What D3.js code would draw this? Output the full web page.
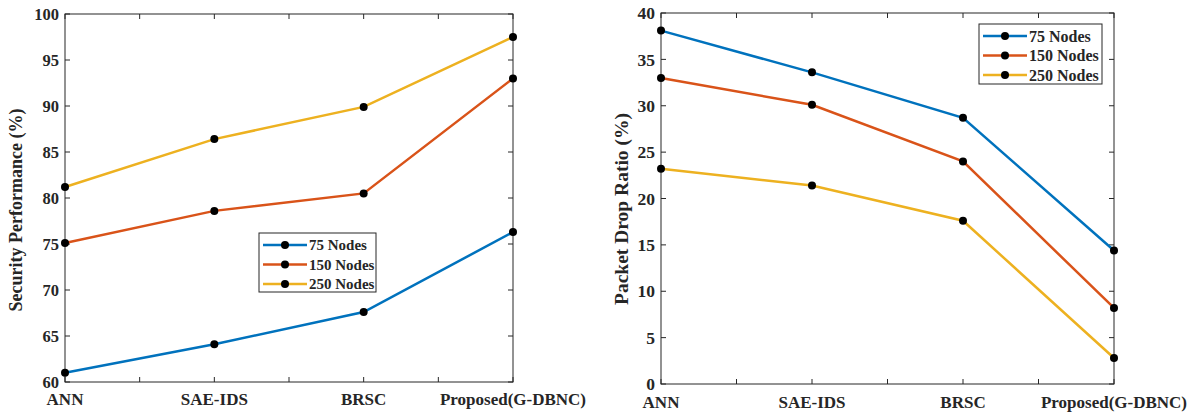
<!DOCTYPE html>
<html><head><meta charset="utf-8">
<script src="https://cdn.jsdelivr.net/npm/d3@7"></script>
<style>body{margin:0;background:#fff}svg{display:block}text{font-family:"Liberation Serif","Times New Roman",serif;font-weight:bold;fill:#262626}</style>
</head><body>
<svg id="c" width="1198" height="416"></svg>
<script>
const categories = ["ANN","SAE-IDS","BRSC","Proposed(G-DBNC)"];
const seriesNames = ["75 Nodes","150 Nodes","250 Nodes"];
const colors = ["#0072BD","#D95319","#EDB120"];
const secPerf75 = [61.0, 64.1, 67.6, 76.3];
const secPerf150 = [75.1, 78.6, 80.5, 93.0];
const secPerf250 = [81.2, 86.4, 89.9, 97.5];
const pdr75 = [38.1, 33.6, 28.7, 14.4];
const pdr150 = [33.0, 30.1, 24.0, 8.2];
const pdr250 = [23.2, 21.4, 17.6, 2.8];
const secTicks = [60,65,70,75,80,85,90,95,100];
const pdrTicks = [0,5,10,15,20,25,30,35,40];

const svg = d3.select("#c");

function panel(o){
  const g = svg.append("g");
  const x = d3.scaleLinear().domain([0, categories.length-1]).range([o.x0, o.x1]);
  const y = d3.scaleLinear().domain(o.domain).range([o.y1, o.y0]);
  const halfTicks = d3.range(0, categories.length-0.5, 0.5);
  const tk = 5;
  const ax = "#262626";
  g.selectAll(".xb").data(halfTicks).join("line").attr("x1",d=>x(d)).attr("x2",d=>x(d)).attr("y1",o.y1).attr("y2",o.y1-tk).attr("stroke",ax);
  g.selectAll(".xt").data(halfTicks).join("line").attr("x1",d=>x(d)).attr("x2",d=>x(d)).attr("y1",o.y0).attr("y2",o.y0+tk).attr("stroke",ax);
  g.selectAll(".yl").data(o.ticks).join("line").attr("x1",o.x0).attr("x2",o.x0+tk).attr("y1",d=>y(d)).attr("y2",d=>y(d)).attr("stroke",ax);
  g.selectAll(".yr").data(o.ticks).join("line").attr("x1",o.x1).attr("x2",o.x1-tk).attr("y1",d=>y(d)).attr("y2",d=>y(d)).attr("stroke",ax);
  g.append("rect").attr("x",o.x0).attr("y",o.y0).attr("width",o.x1-o.x0).attr("height",o.y1-o.y0).attr("fill","none").attr("stroke",ax).attr("stroke-width",1);
  g.selectAll(".ytl").data(o.ticks).join("text").attr("x",o.x0-6).attr("y",d=>y(d)).attr("dy","0.35em").attr("text-anchor","end").attr("font-size",o.fs).text(d=>d);
  g.selectAll(".xtl").data(categories).join("text").attr("x",(d,i)=>x(i)).attr("y",o.y1+o.xlDy).attr("text-anchor","middle").attr("font-size",17).text(d=>d);
  g.append("text").attr("transform",`translate(${o.labelX},${o.labelY}) rotate(-90)`).attr("text-anchor","middle").attr("font-size",o.lfs).text(o.ylabel);
  const line = d3.line().x((d,i)=>x(i)).y(d=>y(d));
  o.series.forEach((s,k)=>{
    g.append("path").datum(s).attr("d",line).attr("fill","none").attr("stroke",colors[k]).attr("stroke-width",2.5);
  });
  o.series.forEach((s,k)=>{
    g.selectAll(null).data(s).join("circle").attr("cx",(d,i)=>x(i)).attr("cy",d=>y(d)).attr("r",4).attr("fill","#000");
  });
  const L = o.legend;
  g.append("rect").attr("x",L.x).attr("y",L.y).attr("width",L.w).attr("height",L.h).attr("fill","#fff").attr("stroke",ax);
  seriesNames.forEach((n,k)=>{
    const yy = L.y + 12 + k*19.5;
    g.append("line").attr("x1",L.x+4).attr("x2",L.x+48).attr("y1",yy).attr("y2",yy).attr("stroke",colors[k]).attr("stroke-width",2.5);
    g.append("circle").attr("cx",L.x+26).attr("cy",yy).attr("r",4).attr("fill","#000");
    g.append("text").attr("x",L.x+50).attr("y",yy).attr("dy","0.35em").attr("font-size",L.fs).text(n);
  });
}

panel({x0:65,x1:513,y0:14,y1:382,domain:[60,100],ticks:secTicks,ylabel:"Security Performance (%)",labelX:22,labelY:210,
  fs:16.5,lfs:18,xlDy:23,
  series:[secPerf75,secPerf150,secPerf250],legend:{x:259,y:233,w:117,h:59,fs:15}});
panel({x0:661,x1:1114,y0:13,y1:384,domain:[0,40],ticks:pdrTicks,ylabel:"Packet Drop Ratio (%)",labelX:628,labelY:209,
  fs:17.5,lfs:19.5,xlDy:24,
  series:[pdr75,pdr150,pdr250],legend:{x:979,y:24,w:123,h:60,fs:16}});
</script>
</body></html>
